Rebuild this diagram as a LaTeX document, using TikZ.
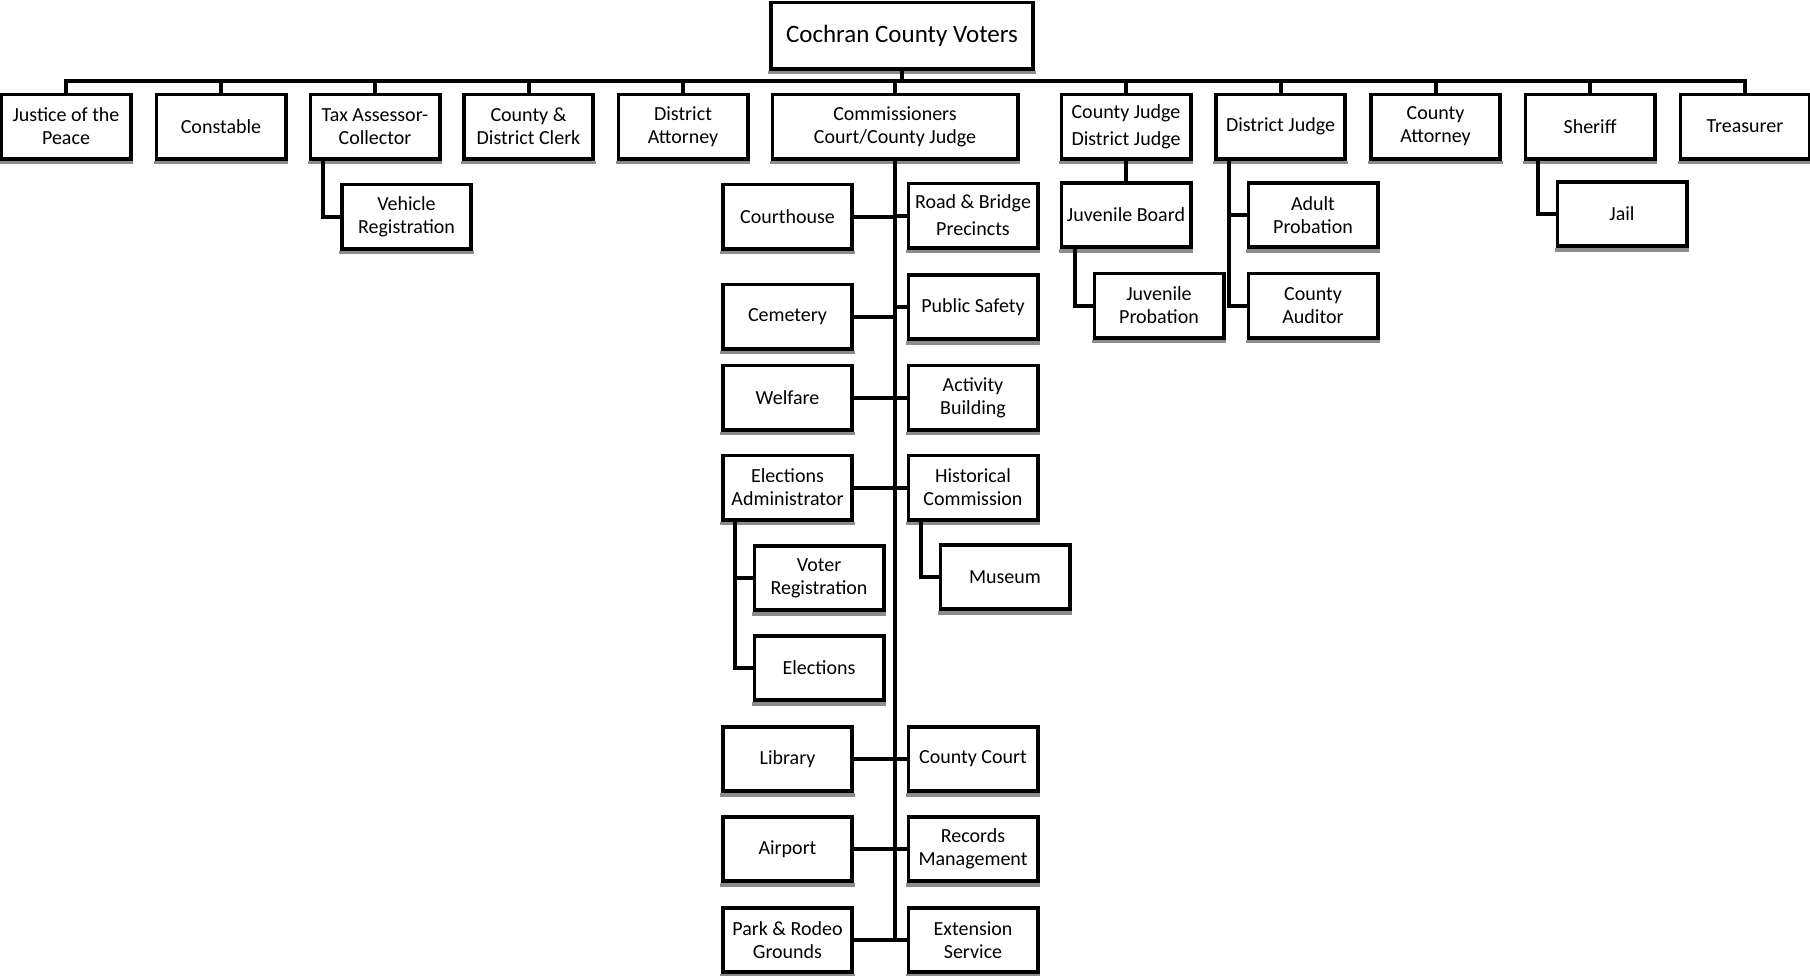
\documentclass[tikz,border=0pt]{standalone}
\usepackage{fontspec}
\setmainfont{Carlito}
\begin{document}
\begin{tikzpicture}[x=1pt,y=-1pt,
  box/.style={draw=black, line width=2.5pt, fill=white, align=center, inner sep=0pt,
    minimum width=128pt, minimum height=63pt, font=\fontsize{20}{23}\selectfont},
  conn/.style={draw=black, line width=4pt, line cap=rect},
  shade/.style={fill=black!45}]
\useasboundingbox (0,0) rectangle (1810,975);
\fill[white] (0,0) rectangle (1810,975);

% top
\node[box, minimum width=261pt, minimum height=65pt, font=\fontsize{25}{28}\selectfont] (voters) at (902,35.5) {Cochran County Voters};
\coordinate (busL) at (66,81);
\coordinate (busR) at (1745,81);

% first row
\node[box] (jp)    at (66,126.5)   {Justice of the\\Peace};
\node[box] (const) at (221,126.5)  {Constable};
\node[box] (tax)   at (375,126.5)  {Tax Assessor-\\Collector};
\node[box] (clerk) at (528.5,126.5){County \&\\District Clerk};
\node[box] (da)    at (683,126.5)  {District\\Attorney};
\node[box, minimum width=244pt] (comm) at (895,126.5) {Commissioners\\Court/County Judge};
\node[box, font=\fontsize{20}{27}\selectfont] (cjdj) at (1126,126.5) {County Judge\\District Judge};
\node[box] (dj)    at (1280.5,126.5) {District Judge};
\node[box] (ca)    at (1435.5,126.5) {County\\Attorney};
\node[box] (sher)  at (1590,126.5) {Sheriff};
\node[box] (treas) at (1745,126.5) {Treasurer};

% tax child
\node[box] (vr) at (406.5,216.5) {Vehicle\\Registration};

% commissioners children, left column
\node[box] (court)  at (787.5,216.5) {Courthouse};
\node[box] (cem)    at (787.5,316.5) {Cemetery};
\node[box] (welf)   at (787.5,397.5) {Welfare};
\node[box] (ea)     at (787.5,487.5) {Elections\\Administrator};
\node[box] (lib)    at (787.5,759)   {Library};
\node[box] (air)    at (787.5,849)   {Airport};
\node[box] (park)   at (787.5,940)   {Park \& Rodeo\\Grounds};
% right column
\node[box, font=\fontsize{20}{27}\selectfont] (rb) at (973,215.5) {Road \& Bridge\\Precincts};
\node[box] (ps)     at (973,307)   {Public Safety};
\node[box] (act)    at (973,397.5) {Activity\\Building};
\node[box] (hist)   at (973,487.5) {Historical\\Commission};
\node[box] (cc)     at (973,759)   {County Court};
\node[box] (rec)    at (973,849)   {Records\\Management};
\node[box] (ext)    at (973,940)   {Extension\\Service};
% grandchildren
\node[box] (voter)  at (819,578)   {Voter\\Registration};
\node[box] (elec)   at (819,668)   {Elections};
\node[box] (mus)    at (1005,577)  {Museum};

% county judge / district judge
\node[box] (jb)  at (1126,215)   {Juvenile Board};
\node[box] (jpro) at (1159,305.5) {Juvenile\\Probation};
% district judge
\node[box] (ap)  at (1313,215)   {Adult\\Probation};
\node[box] (aud) at (1313,305.5) {County\\Auditor};
% sheriff
\node[box] (jail) at (1622,214) {Jail};

% shadows under boxes
\foreach \n in {voters,jp,const,tax,clerk,da,comm,cjdj,dj,ca,sher,treas,vr,court,cem,welf,ea,lib,air,park,rb,ps,act,hist,cc,rec,ext,voter,elec,mus,jb,jpro,ap,aud,jail}
  \fill[shade] ([xshift=-2pt,yshift=-1.5pt]\n.south west) rectangle ([xshift=2pt,yshift=-5pt]\n.south east);

% connectors
\draw[conn] (busL) -- (busR);
\draw[conn] (voters.south) -- (voters.south |- busL);
\foreach \n in {jp,const,tax,clerk,da,comm,cjdj,dj,ca,sher,treas}
  \draw[conn] (\n.north) -- (\n.north |- busL);

\draw[conn] ([xshift=13pt]tax.south west) |- (vr.west);

\draw[conn] (comm.south) -- (comm.south |- park.east);
\foreach \n in {court,cem,welf,ea,lib,air,park}
  \draw[conn] (\n.east) -- (\n.east -| comm.south);
\foreach \n in {rb,ps,act,hist,cc,rec,ext}
  \draw[conn] (\n.west) -- (\n.west -| comm.south);

\draw[conn] ([xshift=13pt]ea.south west) |- (voter.west);
\draw[conn] ([xshift=13pt]ea.south west) |- (elec.west);
\draw[conn] ([xshift=13pt]hist.south west) |- (mus.west);

\draw[conn] (cjdj.south) -- (jb.north);
\draw[conn] ([xshift=14pt]jb.south west) |- (jpro.west);
\draw[conn] ([xshift=14pt]dj.south west) |- (ap.west);
\draw[conn] ([xshift=14pt]dj.south west) |- (aud.west);
\draw[conn] ([xshift=13pt]sher.south west) |- (jail.west);

% redraw boxes on top of connector ends
\foreach \n in {voters,jp,const,tax,clerk,da,comm,cjdj,dj,ca,sher,treas,vr,court,cem,welf,ea,lib,air,park,rb,ps,act,hist,cc,rec,ext,voter,elec,mus,jb,jpro,ap,aud,jail}
  \draw[black, line width=2.5pt] (\n.south west) rectangle (\n.north east);
\end{tikzpicture}
\end{document}
